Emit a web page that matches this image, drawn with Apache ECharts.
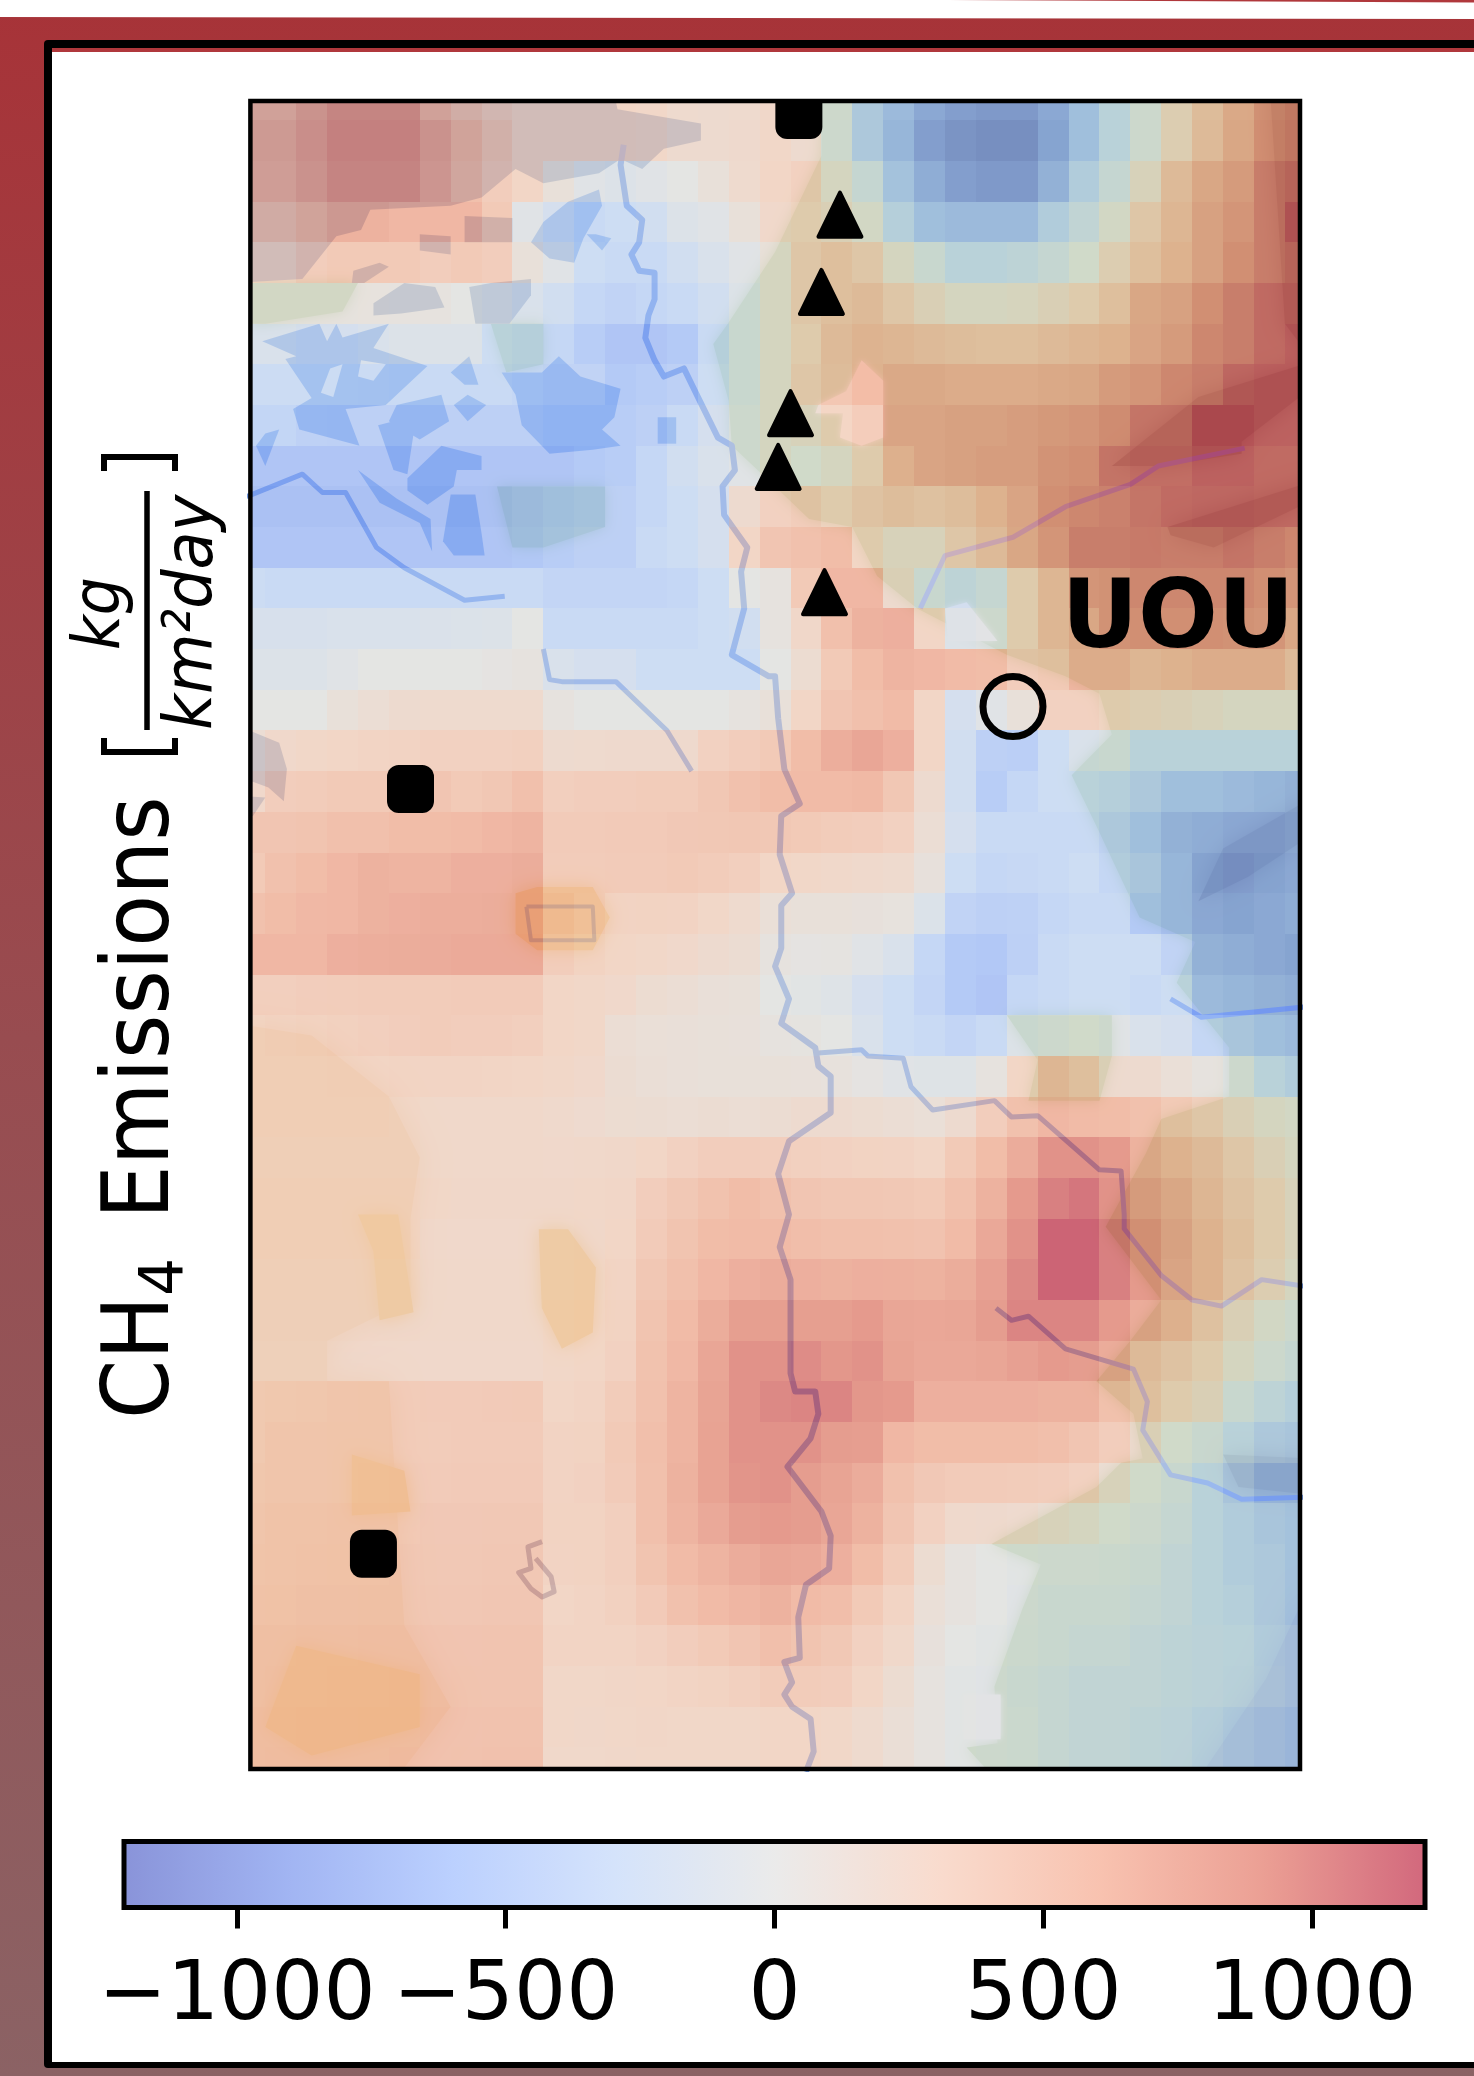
<!DOCTYPE html>
<html><head><meta charset="utf-8">
<style>html,body{margin:0;padding:0;background:#fff}#c{width:1474px;height:2076px}</style>
<script src="https://cdn.jsdelivr.net/npm/echarts@6/dist/echarts.min.js"></script>
</head><body><div id="c"></div>
<script>
// ---- emission field, kg/(km2 day), one row per grid line (north to south), 35 columns
const emissions = [
[620,620,740,860,860,860,620,480,370,300,300,300,300,280,220,200,220,270,200,-40,-450,-650,-850,-950,-1000,-1000,-850,-600,-300,-50,250,480,680,880,930],
[680,680,780,900,900,900,750,600,450,300,300,300,300,280,200,200,230,280,200,-50,-450,-700,-950,-1050,-1100,-1100,-900,-600,-300,-50,250,500,700,900,950],
[650,650,750,870,870,870,720,560,400,300,100,-50,-100,-50,0,100,220,300,350,100,-150,-550,-800,-950,-1000,-1000,-750,-400,-150,150,500,700,800,1000,1050],
[500,500,600,700,700,650,650,650,450,-50,-200,-350,-300,-250,-100,-50,100,250,300,200,50,-350,-600,-650,-650,-650,-400,-200,50,350,550,750,850,1000,1150],
[300,300,400,450,450,450,400,450,400,100,-50,-300,-350,-350,-250,-150,-50,100,350,450,350,100,-100,-300,-300,-250,-150,0,250,450,600,750,900,1000,1050],
[50,50,50,50,60,50,50,0,-50,-150,-250,-400,-450,-400,-350,-250,-100,100,350,450,500,350,200,100,100,120,200,300,450,700,750,900,1000,1100,1100],
[-150,-150,-200,-200,-150,-100,-100,-100,-300,-350,-400,-550,-650,-650,-600,-350,-100,100,300,500,580,550,500,470,450,450,500,550,600,720,800,950,1000,1100,1150],
[-320,-320,-320,-320,-330,-350,-350,-350,-350,-400,-450,-450,-600,-550,-500,-300,-100,100,350,480,600,680,680,650,650,650,680,700,800,850,950,1000,1120,1150,1150],
[-420,-420,-480,-500,-500,-500,-500,-500,-500,-500,-550,-550,-550,-500,-350,-200,-50,100,150,300,400,720,720,750,750,780,820,850,920,1050,1050,1200,1200,1150,1150],
[-650,-650,-650,-650,-650,-650,-650,-650,-650,-650,-650,-600,-550,-400,-250,-150,-50,100,0,100,300,620,720,750,780,780,870,900,1050,1080,1080,1150,1150,1100,1100],
[-700,-700,-700,-700,-700,-700,-700,-700,-700,-650,-600,-550,-500,-400,-300,-200,200,350,400,300,400,470,420,470,600,720,900,950,980,1050,1100,1120,1120,1100,1100],
[-650,-650,-650,-650,-650,-650,-650,-650,-650,-620,-550,-500,-500,-350,-300,-200,300,500,550,600,300,150,150,350,500,700,850,1000,1000,1020,1000,1000,1050,1000,950],
[-320,-350,-350,-350,-350,-350,-350,-350,-350,-350,-430,-430,-430,-430,-400,-300,0,50,450,650,650,200,-100,-250,-150,300,550,850,880,950,950,950,950,900,850],
[-170,-170,-170,-150,-150,-150,-130,-120,-100,0,-350,-350,-350,-350,-350,-300,-250,50,270,560,700,720,300,-100,-50,300,550,700,880,900,900,900,880,850,700],
[-100,-100,-100,-50,0,0,0,0,20,50,-150,-200,-200,-300,-300,-300,-300,0,180,450,600,680,650,620,600,400,450,650,650,550,600,650,650,650,500],
[0,0,0,100,150,200,220,220,220,220,50,0,0,0,0,0,50,100,300,500,560,620,300,-200,-50,100,350,350,300,250,200,150,100,100,100],
[150,250,280,300,320,330,350,350,350,370,200,220,230,230,230,350,400,450,600,730,800,720,300,-250,-500,-520,-300,-150,-100,-300,-300,-300,-300,-300,-300],
[250,400,420,450,450,470,500,450,480,560,380,400,400,420,420,480,550,600,620,620,630,480,200,-250,-550,-400,-300,-300,-350,-450,-600,-600,-650,-700,-750],
[500,500,520,560,560,600,600,620,650,680,430,430,440,440,460,470,480,470,450,420,400,350,150,-200,-350,-350,-350,-350,-450,-600,-750,-800,-850,-850,-800],
[450,550,600,650,700,680,680,720,720,740,420,420,430,430,450,420,380,300,280,260,240,220,80,-300,-400,-380,-350,-300,-400,-500,-700,-900,-950,-900,-850],
[550,600,640,650,700,720,730,730,740,750,480,400,330,340,330,280,220,120,100,100,80,60,-120,-450,-500,-480,-400,-350,-350,-600,-700,-850,-900,-850,-800],
[650,650,650,720,730,740,750,760,760,760,400,340,300,280,250,200,170,50,20,30,-50,-150,-400,-600,-620,-500,-350,-300,-300,-300,-450,-750,-800,-850,-900],
[380,380,400,410,420,420,420,430,430,430,300,280,250,180,150,110,100,0,-30,-80,-200,-300,-430,-600,-650,-400,-350,-300,-300,-350,-300,-650,-700,-750,-800],
[300,320,340,360,380,400,420,400,400,380,300,280,150,120,110,100,90,50,40,0,-150,-300,-350,-430,-350,-100,-50,0,-50,-150,-200,-400,-500,-600,-650],
[300,300,300,310,310,320,320,320,310,300,280,250,170,130,110,100,100,100,90,70,20,-50,-70,-70,50,300,550,450,200,200,120,50,-50,-300,-400],
[300,300,300,300,300,280,260,260,260,260,240,210,180,170,160,170,160,170,200,200,180,150,120,200,400,550,650,620,600,550,450,350,200,100,50],
[280,280,280,280,280,280,260,260,260,260,250,260,270,300,350,400,400,390,370,350,340,330,300,450,600,750,950,950,900,700,600,500,350,200,100],
[300,300,300,300,300,300,280,270,270,270,270,280,290,400,470,540,600,550,500,480,480,470,450,550,700,900,1050,1100,950,800,700,550,400,300,150],
[300,300,300,300,300,300,250,250,250,250,260,270,300,430,520,600,620,620,580,560,560,550,530,620,780,950,1200,1200,1050,900,750,600,450,300,150],
[280,280,280,280,280,280,260,260,260,260,260,280,320,480,560,650,720,750,720,700,720,710,700,740,850,1000,1200,1200,1050,900,720,600,400,250,100],
[270,270,270,270,270,270,260,260,260,260,280,300,340,520,620,740,860,860,860,860,900,800,790,800,880,1020,1020,1020,900,750,620,420,200,50,-50],
[250,250,250,250,250,250,250,250,250,250,280,300,350,540,640,800,950,950,980,920,950,820,780,780,800,850,900,880,750,500,400,300,100,-50,-150],
[350,370,380,400,410,420,430,430,440,450,300,320,420,550,680,820,950,1000,1020,1020,920,900,720,720,720,720,700,700,550,450,300,200,-100,-250,-350],
[350,400,400,410,410,420,420,430,430,430,330,340,450,570,680,830,950,950,950,880,870,650,600,600,600,600,570,500,400,200,0,-100,-300,-450,-500],
[380,400,400,410,420,430,430,440,440,440,330,350,430,560,700,830,930,950,880,820,750,550,460,430,430,420,400,350,150,0,-100,-300,-500,-700,-700],
[400,430,430,440,440,450,460,460,470,470,340,340,380,560,680,770,880,900,880,800,700,500,350,240,230,210,150,100,0,-50,-150,-300,-400,-500,-550],
[420,430,440,450,450,460,470,470,480,480,330,340,380,520,620,680,750,800,780,720,600,420,180,50,0,-30,-50,-50,-70,-100,-200,-300,-400,-450,-550],
[440,450,460,460,470,470,480,480,490,490,300,320,360,440,550,620,660,700,620,580,450,320,120,50,0,-50,-100,-100,-100,-150,-200,-300,-350,-450,-550],
[480,480,490,490,500,500,510,510,520,520,320,320,320,350,400,450,500,570,520,470,350,260,80,0,-30,-60,-100,-150,-150,-200,-250,-280,-300,-400,-450],
[480,490,490,500,500,510,510,520,520,520,280,280,290,300,320,340,370,420,420,400,300,180,50,-30,-50,-100,-150,-200,-200,-200,-250,-280,-320,-380,-450],
[500,500,510,510,520,520,530,530,540,540,280,270,280,290,280,280,280,300,300,280,220,130,50,-30,-50,-80,-150,-200,-200,-250,-280,-350,-420,-480,-550],
[500,510,510,520,520,530,530,540,550,550,260,260,270,280,280,280,280,300,300,280,220,130,50,-30,-50,-80,-150,-200,-200,-250,-280,-350,-420,-480,-550]
];
const colorbarTicks = [-1000,-500,0,500,1000];
const colorbarMin = -1210, colorbarMax = 1210;

// ---- observation sites, in grid units [column, row]
const squareSites = [[18.27,0.87],[5.7,17.44],[4.5,36.24]];
const triangleSites = [[19.6,3.32],[19,5.22],[18,8.2],[17.6,9.52],[19.1,12.6]];
const circleSite = [[25.2,15.41]];
const siteLabel = {text:'UOU', at:[30.54,13.35]};

// ---- basemap, in grid units
const lakeNorth = [
[[0,0],[12.2,0],[12.4,.73],[15.1,1.08],[15.1,1.5],[13.9,1.7],[13.2,2.2],[12.5,1.95],[11.8,2.3],[10,2.55],[9.1,2.2],[8,2.9],[7,3.1],[4.4,3.2],[4.1,3.7],[3.3,3.85],[2.2,4.9],[0,5]],
[[6,3.8],[7,3.85],[7,4.3],[6,4.2]],
[[7.45,3.35],[9,3.4],[9,4],[7.45,4]],
[[3.85,4.7],[4.7,4.5],[5,4.6],[4.2,5],[3.8,5]],
[[8.3,5],[9.6,4.9],[9.6,5.3],[8.9,6],[7.8,6],[7.6,5.1]],
[[4.5,5.5],[5.5,5],[6.5,5.1],[6.8,5.6],[5.4,5.75],[4.5,5.8]],
[[0,15.85],[1.45,16.3],[1.7,16.95],[1.6,17.74],[1.1,17.4],[0,17.1]],
[[0,17.6],[1,17.65],[.6,18.1],[0,18.1]]
];
const wetlands = [
[[10.8,3],[11.8,2.7],[11.9,3.1],[11.3,3.9],[11,4.5],[10.2,4.4],[9.6,4],[10,3.5]],
[[11.7,3.8],[12.2,3.9],[11.9,4.2],[11.4,3.8]],
[[.9,6.43],[2.75,6],[3,6.43],[3.3,6],[3.5,6.34],[5,6],[4.5,6.6],[6.25,7.04],[4.9,8],[3.6,8.1],[4.05,9],[2.1,8.6],[1.9,8.1],[2.5,7.83],[1.65,6.87],[2,6.8]],
[[5.25,8],[6.7,7.75],[6.95,8.4],[6,8.85],[5,8.4]],
[[7.1,8],[7.55,7.75],[8.15,8],[7.55,8.4]],
[[7,7.2],[7.6,6.8],[7.9,7.5],[7.45,7.5]],
[[4.65,8.5],[5.15,8.4],[5.8,8.7],[5.6,9.7],[5.15,9.6]],
[[5.6,9.8],[6.7,9],[8,9.25],[8,9.6],[7.2,9.6],[7.1,10],[6.25,10.45],[5.6,10.1]],
[[7,10.2],[7.8,10.2],[8,11.15],[8.1,11.7],[7.1,11.7],[6.75,11.35]],
[[4,9.6],[5.25,10.3],[6.35,10.8],[6.4,11.6],[6,10.9],[4.7,10.4]],
[[8.65,7.2],[9.95,7.2],[10.5,6.8],[11.2,7.3],[12.5,7.6],[12.3,8.3],[11.9,8.6],[12.5,9],[11.6,9.1],[10.2,9.2],[9.3,8.5],[9.1,7.75]],
[[13.7,8.3],[14.3,8.3],[14.3,8.95],[13.7,8.95]],
[[.7,9],[1,8.7],[1.45,8.6],[1,9.5]]
];
const lakeIslands = [
[[3.1,7.1],[3.5,7],[3.2,7.8],[2.8,7.7]],
[[4.1,6.9],[4.9,7],[4.5,7.4],[4,7.3]],
[[5.2,6.3],[6,5.9],[6.4,6.2],[6,6.6],[5.3,6.7]]
];
const foothills = [
[[19,0],[19,1.87],[17.5,4.24],[15.97,6],[15.5,6.5],[16,7.9],[16.1,9],[17.5,10],[18.6,10.8],[20,11],[20.8,12.2],[22.1,13],[25,14.14],[26.9,14.67],[28,15.1],[28.4,16.1],[27.1,17.1],[27.9,18.35],[28.8,19.8],[29.3,20.6],[31.1,21.2],[30.5,22.2],[32.2,23.8],[32.2,25],[30,25.55],[29.5,26.4],[28.2,28.2],[30,30],[29,31],[27.9,32],[29.1,32.8],[29.4,33.9],[28.7,34],[27.9,34.6],[24.5,36],[26.1,36.5],[25.5,37.6],[24.6,39.5],[24.7,40.9],[23.7,41],[24.9,42],[35,42],[35,0]],
[[25,23],[28.4,23],[28.4,24],[28,25.1],[25.7,25.1],[26,24.1]],
[[8.3,6],[10,6],[10,7],[8.8,7.2]],
[[8.5,10],[12,10],[12,11],[10,11.5],[9,11.5]],
[[.5,5],[4,5],[3.5,5.7],[1,6],[.5,6]]
];
const uplands = [
[[33.4,39.3],[34.5,37.5],[35,37],[35,42],[31,42]]
];
const ridges = [
[[28.4,9.5],[31.2,7.8],[35,6.9],[35,7.5],[32.6,8.9],[32.6,9.2],[30,9.5]],
[[30.2,11],[35,9.85],[35,10.3],[31.7,11.5],[30.3,11.2]],
[[33.5,0],[35,0],[35,7],[34,6]],
[[31.2,20.2],[32,18.9],[35,17.6],[35,18.5],[32.8,19.6]],
[[32,33.8],[35,33.9],[35,34.8],[32.5,34.6]]
];
const openGround = [
[[18.9,8],[19.8,7.66],[20.3,6.9],[21,7.4],[21,8.8],[20.3,9],[19.6,8.8],[19.7,8.2],[18.8,8.2]],
[[23,13],[23.7,12.85],[24.7,13.8],[23.1,13.8]],
[[23.6,39.7],[24.8,39.7],[24.8,40.8],[23.6,40.8]]
];
const dryFlats = [
[[0,23.2],[2.5,23.5],[5,25],[6,26.5],[5.7,28],[5.7,30],[3,31],[3,32],[0,32]],
[[0,32],[5,32],[5.5,38],[7,40],[5,42],[0,42]]
];
const croplands = [
[[9.85,28.26],[10.8,28.26],[11.7,29.2],[11.6,30.8],[10.6,31.2],[9.95,30.2]],
[[4,27.9],[5.3,27.9],[5.8,30.3],[4.7,30.5],[4.5,28.8]],
[[3.8,33.8],[5.5,34.2],[5.7,35.2],[3.8,35.3]],
[[2,38.5],[6,39.2],[6,40.5],[2.5,41.2],[1,40.5]],
[[9.1,20],[9.8,19.85],[11.6,19.85],[12.15,20.6],[11.6,21.4],[9.8,21.4],[9.1,21]]
];
const townOutline = [[9.45,20.33],[11.6,20.33],[11.65,21.16],[9.6,21.16],[9.45,20.33]];
const pond = [[9.96,35.94],[9.5,36.07],[9.6,36.6],[9.2,36.7],[9.6,37.1],[9.96,37.3],[10.35,37.17],[10.25,36.8],[9.75,36.35]];
const riverMain = [[12.6,1.6],[12.5,2.1],[12.7,3.1],[13.2,3.45],[13.1,4],[12.85,4.3],[13.1,4.7],[13.6,4.75],[13.6,5.4],[13.4,5.8],[13.3,6.35],[13.6,6.9],[13.9,7.3],[14.55,7.1],[15,7.8],[15.65,8.8],[16.1,9],[16.2,9.6],[15.8,10],[15.85,10.7],[16.6,11.5],[16.4,12.1],[16.5,13],[16.1,14.14],[17.3,14.67],[17.5,14.67],[17.6,15.7],[17.8,16.95],[18.3,17.8],[17.7,18.1],[17.65,19.05],[18.05,20],[17.7,20.3],[17.7,21.35],[17.5,21.8],[17.95,22.6],[17.7,23.2],[18.8,23.8],[18.9,24.25],[19.3,24.5],[19.3,25.4],[17.95,26.1],[17.6,26.9],[17.95,27.9],[17.65,28.7],[18,29.5],[18,31.8],[18.15,32.25],[18.8,32.25],[18.9,32.8],[18.65,33.4],[17.9,34.1],[19,35.2],[19.3,35.8],[19.25,36.6],[18.5,37],[18.25,37.8],[18.3,38.8],[17.8,38.9],[18.05,39.4],[17.8,39.7],[18.05,40],[18.65,40.3],[18.75,41.1],[18.5,41.6]];
const canalWest = [[.4,10.25],[2.2,9.7],[2.85,10.15],[3.6,10.15],[4.6,11.5],[5.5,12],[7.45,12.8],[8.75,12.7]];
const canalJordan = [[10,14],[10.2,14.75],[10.6,14.8],[12.35,14.8],[14,16],[14.8,17]];
const streamNorth = [[22.2,13],[23,11.7],[25.2,11.25],[26.9,10.5],[29,9.95],[29.9,9.5],[32.7,9.06]];
const streamFork = [[18.9,23.93],[20.3,23.85],[20.5,24],[21.65,24.06],[21.9,24.76],[22.6,25.33],[24.6,25.1],[25.15,25.5],[26,25.47],[28,26.8],[28.7,26.83],[28.8,27.9],[28.8,28.25],[30,29.4],[31,30],[31.95,30.15],[33.25,29.5],[34.6,29.66]];
const streamSouth = [[24.65,30.2],[25.15,30.5],[25.7,30.4],[26.9,31.2],[29.1,31.7],[29.55,32.5],[29.4,33.2],[30.3,34.3],[31.5,34.5],[32.6,34.9],[34.6,34.85]];
const streamEast = [[30.3,22.6],[31.3,23.05],[34.6,22.8]];

// ---- drawing
const cells = [];
emissions.forEach((row,r)=>row.forEach((v,c)=>cells.push([c,r,v])));

function shapes(name, polys, fill, z, blur){
  return {name, type:'custom', xAxisIndex:0, yAxisIndex:0, z, clip:true, silent:true, animation:false,
    data: polys.map(p=>p[0]),
    renderItem(params, api){
      const pts = polys[params.dataIndex].map(p=>api.coord(p));
      return {type:'polygon', shape:{points:pts}, style:{fill, shadowBlur:blur||0, shadowColor:fill}};
    }};
}
function stream(name, pts, color, width){
  return {name, type:'line', xAxisIndex:0, yAxisIndex:0, z:2, data:pts, showSymbol:false, silent:true, animation:false, clip:true,
    lineStyle:{color, width, join:'round'}};
}

const tipo = 'DejaVu Sans';
const option = {
  animation:false,
  backgroundColor:'#fff',
  grid:[
    {left:250.4, top:101, width:1049.6, height:1668, show:false},
    {left:124, top:1841.5, width:1301, height:66, show:true, backgroundColor:'transparent', borderColor:'#000', borderWidth:5, z:10}
  ],
  xAxis:[
    {type:'value', gridIndex:0, min:.518, max:34.49, show:false},
    {type:'value', gridIndex:1, min:colorbarMin, max:colorbarMax, position:'bottom', z:11,
     splitLine:{show:false}, axisLine:{show:false},
     axisTick:{show:true, length:21, lineStyle:{color:'#000',width:5}, customValues:colorbarTicks},
     axisLabel:{show:true, customValues:colorbarTicks, hideOverlap:false, margin:49, color:'#000', fontFamily:tipo, fontSize:82,
       formatter:v=>String(v).replace('-','\u2212')}}
  ],
  yAxis:[
    {type:'value', gridIndex:0, min:.526, max:41.53, inverse:true, show:false},
    {type:'value', gridIndex:1, min:0, max:1, show:false}
  ],
  visualMap:[{
    type:'continuous', seriesIndex:0, dimension:2, min:colorbarMin, max:colorbarMax, orient:'horizontal',
    left:124, top:1841.5, padding:0, itemWidth:66, itemHeight:1301, calculable:false, realtime:false, hoverLink:false, text:null, z:4,
    outOfRange:{color:['rgba(255,255,255,0)']},
    inRange:{color:['rgba(59,76,192,.6)','rgba(98,130,234,.6)','rgba(141,176,254,.6)','rgba(184,208,249,.6)','rgba(221,221,221,.6)','rgba(245,196,173,.6)','rgba(244,154,123,.6)','rgba(222,96,77,.6)','rgba(180,4,38,.6)']}
  }],
  series:[
    {name:'CH4 emissions', type:'custom', xAxisIndex:0, yAxisIndex:0, z:3, clip:true, silent:true, animation:false,
     data:cells, encode:{x:0,y:1},
     renderItem(params, api){
       const c=api.value(0), r=api.value(1);
       const a=api.coord([c,r]), b=api.coord([c+1,r+1]);
       const x0=Math.round(a[0]), x1=Math.round(b[0]), y0=Math.round(a[1]), y1=Math.round(b[1]);
       return {type:'rect', shape:{x:x0,y:y0,width:x1-x0,height:y1-y0}, style:{fill:api.visual('color')}};
     }},
    shapes('Land', [[[0,0],[35,0],[35,42],[0,42]]], '#eef0ea', 1),
    shapes('Dry flats', dryFlats, '#e9dcc0', 1, 30),
    shapes('Croplands', croplands, '#e8cf8e', 1, 18),
    shapes('Foothills', foothills, '#bcd4aa', 1, 14),
    shapes('Uplands', uplands, '#a2b4a4', 1, 30),
    shapes('Ridges', ridges, '#9aaa88', 1, 22),
    shapes('Open ground', openGround, '#f2efe9', 1, 6),
    shapes('North lake', lakeNorth, '#9cb0c8', 1),
    shapes('Wetlands', wetlands, '#8bb0e2', 1),
    shapes('Lake islands', lakeIslands, '#eef0ea', 1),
    stream('Main river', riverMain, '#6f96de', 6),
    stream('West canal', canalWest, '#6f96de', 5),
    stream('Jordan canal', canalJordan, '#6f96de', 5),
    stream('North stream', streamNorth, '#8a9ce0', 5),
    stream('Fork stream', streamFork, '#6f96de', 5),
    stream('South stream', streamSouth, '#6f96de', 5),
    stream('East stream', streamEast, '#6f96e8', 5),
    stream('Town', townOutline, '#9a9a8a', 4),
    stream('Pond', pond, '#8f8fa8', 5),
    {name:'Squares', type:'scatter', xAxisIndex:0, yAxisIndex:0, z:6, silent:true, animation:false, clip:true,
     data:squareSites, symbol:'roundRect', symbolSize:[47,48], itemStyle:{color:'#000',opacity:1}},
    {name:'Triangles', type:'scatter', xAxisIndex:0, yAxisIndex:0, z:6, silent:true, animation:false, clip:true,
     data:triangleSites, symbol:'triangle', symbolSize:[43,44], itemStyle:{color:'#000',opacity:1,borderColor:'#000',borderWidth:4,borderJoin:'round'}},
    {name:'UOU site', type:'scatter', xAxisIndex:0, yAxisIndex:0, z:6, silent:true, animation:false, clip:true,
     data:circleSite, symbol:'circle', symbolSize:60, itemStyle:{color:'transparent',opacity:1,borderColor:'#000',borderWidth:7}},
    {name:'UOU label', type:'scatter', xAxisIndex:0, yAxisIndex:0, z:7, silent:true, animation:false,
     data:[siteLabel.at], symbolSize:1, itemStyle:{color:'transparent',opacity:1},
     label:{show:true, position:'inside', formatter:siteLabel.text, fontFamily:tipo, fontWeight:'bold', fontSize:94, color:'#000', opacity:1}}
  ],
  graphic:[
    {type:'rect', z:-10, silent:true, shape:{x:0,y:0,width:1474,height:2076},
     style:{fill:{type:'linear',x:0,y:0,x2:0,y2:1,colorStops:[{offset:0,color:'#a73338'},{offset:.5,color:'#984c50'},{offset:1,color:'#8b6264'}]}}},
    {type:'polygon', z:-9, silent:true, shape:{points:[[0,0],[1474,0],[1474,19],[0,17]]}, style:{fill:'#fff'}},
    {type:'polygon', z:-9, silent:true, shape:{points:[[950,0],[1474,0],[1474,2.5]]}, style:{fill:'#b0383c'}},
    {type:'rect', z:-8, silent:true, shape:{x:44,y:40,width:1430,height:2028,r:[4,0,0,4]}, style:{fill:'#000'}},
    {type:'rect', z:-7, silent:true, shape:{x:52,y:48,width:1422,height:2014}, style:{fill:'#fff'}},
    {type:'rect', z:-7, silent:true, shape:{x:52,y:48,width:1422,height:4}, style:{fill:'#b0383c'}},
    // white margin above the plot: markers stop at the plot edge
    {type:'rect', z:19, silent:true, shape:{x:240,y:52,width:1070,height:49}, style:{fill:'#fff'}},
    // plot frame
    {type:'rect', z:20, silent:true, shape:{x:250.4,y:101,width:1049.6,height:1668}, style:{fill:'none',stroke:'#000',lineWidth:4.5}},
    // rotated axis title
    {type:'text', z:20, x:144, y:1419, rotation:Math.PI/2, scaleY:1.09, style:{text:'CH', font:'85px "DejaVu Sans"', fill:'#000', align:'left', verticalAlign:'middle'}},
    {type:'text', z:20, x:166, y:1296, rotation:Math.PI/2, style:{text:'4', font:'60px "DejaVu Sans"', fill:'#000', align:'left', verticalAlign:'middle'}},
    {type:'text', z:20, x:144, y:1219, rotation:Math.PI/2, scaleY:1.09, style:{text:'Emissions', font:'85px "DejaVu Sans"', fill:'#000', align:'left', verticalAlign:'middle'}},
    {type:'polyline', z:20, silent:true, shape:{points:[[104,738],[104,752],[175,752],[175,738]]}, style:{stroke:'#000',lineWidth:6,fill:'none'}},
    {type:'polyline', z:20, silent:true, shape:{points:[[104,471],[104,457],[175,457],[175,471]]}, style:{stroke:'#000',lineWidth:6,fill:'none'}},
    {type:'line', z:20, silent:true, shape:{x1:147,y1:491,x2:147,y2:730}, style:{stroke:'#000',lineWidth:5.5}},
    {type:'text', z:20, x:102, y:650, rotation:Math.PI/2, scaleY:1.1, style:{text:'kg', font:'italic 60px "DejaVu Sans"', fill:'#000', align:'left', verticalAlign:'middle'}},
    {type:'text', z:20, x:194, y:730, rotation:Math.PI/2, scaleY:1.1, style:{text:'km\u00b2day', font:'italic 62px "DejaVu Sans"', fill:'#000', align:'left', verticalAlign:'middle'}}
  ]
};
const chart = echarts.init(document.getElementById('c'), null, {renderer:'canvas', width:1474, height:2076});
chart.setOption(option);
</script></body></html>
